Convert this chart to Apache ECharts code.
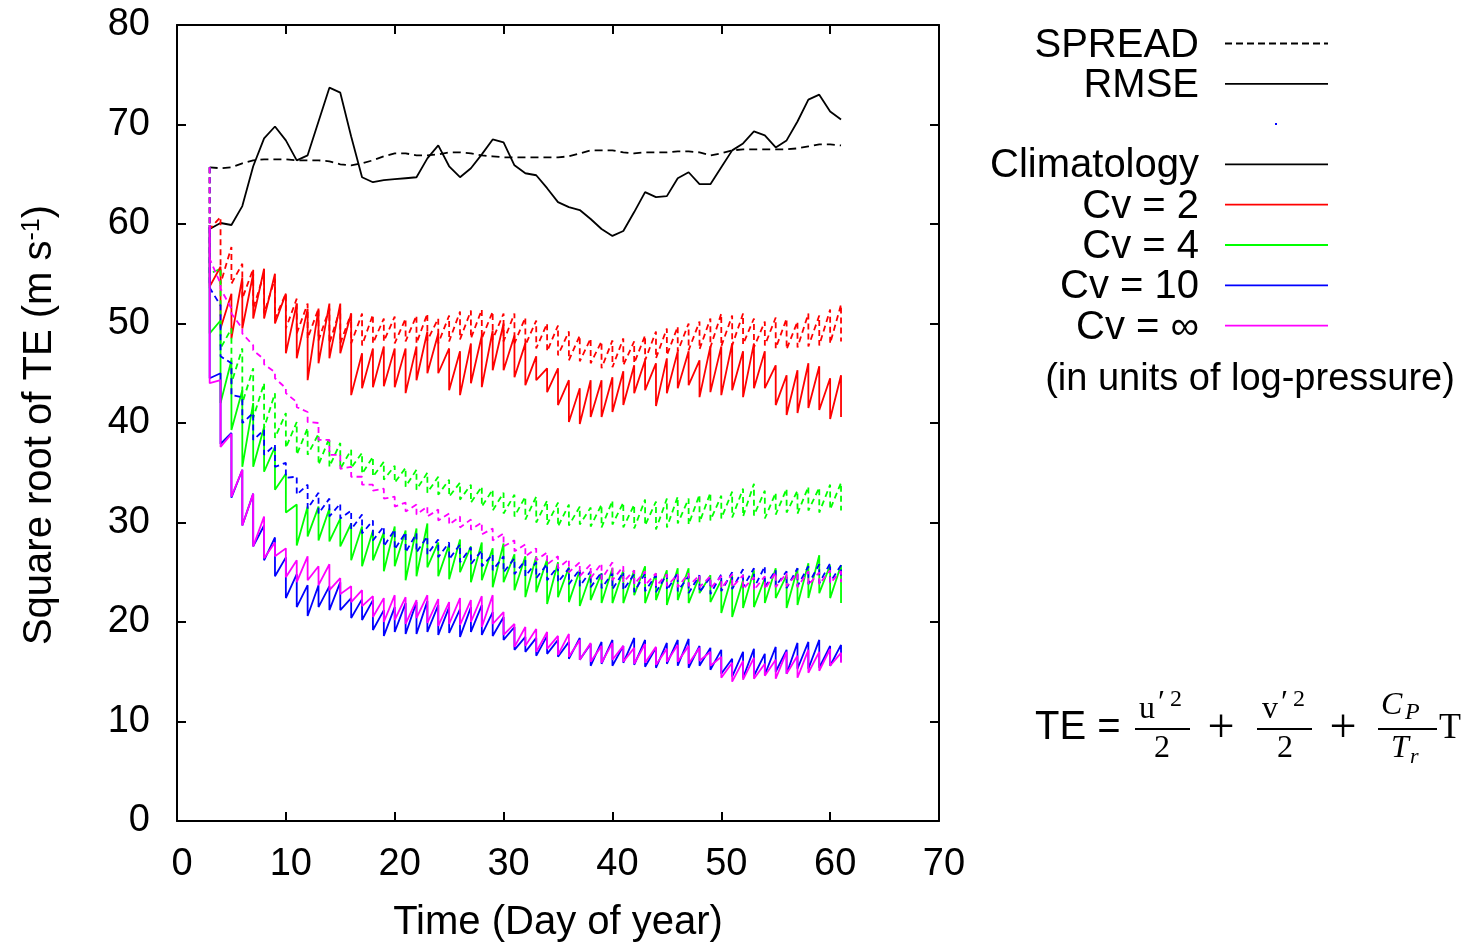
<!DOCTYPE html>
<html>
<head>
<meta charset="utf-8">
<title>Square root of TE</title>
<script src="https://cdn.jsdelivr.net/npm/echarts@6/dist/echarts.min.js"></script>
<style>
  html, body { margin: 0; padding: 0; background: #fff; }
  #chart { width: 1461px; height: 944px; }
</style>
</head>
<body>
<div id="chart"></div>
<script>
// day of year of each analysis cycle
const days = [
  3, 4, 5, 6, 7, 8, 9, 10, 11, 12,
  13, 14, 15, 16, 17, 18, 19, 20, 21, 22,
  23, 24, 25, 26, 27, 28, 29, 30, 31, 32,
  33, 34, 35, 36, 37, 38, 39, 40, 41, 42,
  43, 44, 45, 46, 47, 48, 49, 50, 51, 52,
  53, 54, 55, 56, 57, 58, 59, 60, 61
]

// climatology (black)
const climRmse = [
  59.5, 60.1, 59.9, 61.8, 65.8, 68.6, 69.8, 68.4, 66.4, 66.9,
  70.3, 73.7, 73.2, 68.8, 64.7, 64.2, 64.4, 64.5, 64.6, 64.7,
  66.6, 67.9, 65.8, 64.7, 65.6, 67.0, 68.5, 68.2, 65.9, 65.1,
  64.9, 63.6, 62.2, 61.7, 61.4, 60.5, 59.5, 58.8, 59.3, 61.2,
  63.2, 62.7, 62.8, 64.6, 65.2, 64.0, 64.0, 65.7, 67.4, 68.1,
  69.3, 68.9, 67.7, 68.4, 70.3, 72.5, 73.0, 71.3, 70.5
]
const climSpread = [
  65.7, 65.6, 65.7, 66.1, 66.4, 66.5, 66.5, 66.5, 66.4, 66.4,
  66.4, 66.3, 66.0, 65.9, 66.1, 66.4, 66.8, 67.1, 67.1, 66.9,
  66.9, 67.0, 67.2, 67.2, 67.1, 66.9, 66.8, 66.7, 66.7, 66.7,
  66.7, 66.7, 66.7, 66.8, 67.1, 67.4, 67.4, 67.4, 67.2, 67.1,
  67.2, 67.2, 67.2, 67.3, 67.3, 67.2, 66.9, 67.1, 67.4, 67.5,
  67.5, 67.5, 67.5, 67.5, 67.6, 67.8, 68.0, 68.0, 67.9
]

// Cv = 2 (red): forecast value before each analysis, analysis value after it
const cv2Fcst = [
  59.9, 55.7, 53.0, 54.6, 55.0, 55.5, 55.0, 53.0, 52.0, 51.5,
  51.5, 52.0, 52.0, 51.0, 47.0, 47.5, 47.7, 47.5, 47.5, 47.7,
  49.2, 49.0, 47.5, 47.2, 48.0, 48.8, 49.3, 50.0, 48.8, 48.0,
  46.7, 45.5, 45.5, 44.3, 43.5, 44.3, 44.3, 44.6, 45.2, 45.8,
  46.3, 46.0, 46.5, 47.2, 47.2, 46.3, 47.7, 47.7, 48.0, 47.2,
  48.0, 47.2, 45.8, 44.8, 45.3, 46.0, 45.7, 44.5, 44.8
]
const cv2Anal = [
  53.7, 49.5, 48.5, 49.5, 50.5, 50.5, 50.0, 47.0, 46.5, 44.3,
  46.0, 46.5, 47.0, 42.8, 43.5, 43.6, 43.7, 43.6, 43.0, 44.3,
  45.0, 45.0, 43.3, 42.8, 44.0, 43.6, 45.3, 45.3, 44.6, 43.8,
  44.3, 43.1, 41.8, 40.1, 39.9, 40.6, 40.6, 41.1, 41.8, 43.0,
  43.3, 41.7, 43.0, 43.5, 43.8, 42.6, 43.1, 42.8, 43.3, 42.6,
  43.5, 43.5, 41.8, 40.8, 41.0, 41.5, 41.3, 40.4, 40.6
]
const cv2SpreadFcst = [
  65.7, 60.7, 57.7, 56.0, 55.5, 55.0, 54.5, 53.0, 52.5, 52.0,
  51.5, 51.5, 51.5, 51.0, 51.0, 50.9, 50.5, 50.7, 50.5, 50.8,
  51.0, 50.5, 50.8, 51.2, 51.3, 51.4, 51.2, 51.0, 51.0, 50.6,
  50.3, 50.0, 49.8, 49.2, 48.8, 48.5, 48.2, 48.3, 48.5, 48.2,
  48.8, 49.2, 49.5, 49.7, 50.0, 50.2, 50.5, 51.0, 50.8, 51.0,
  50.5, 50.2, 50.6, 50.5, 50.2, 51.0, 50.8, 51.4, 51.9
]
const cv2SpreadAnal = [
  59.5, 54.0, 54.0, 52.5, 51.5, 51.0, 50.5, 49.5, 49.0, 48.5,
  48.3, 48.0, 48.0, 48.0, 47.8, 48.0, 48.2, 48.0, 48.2, 48.0,
  48.3, 48.0, 48.2, 48.4, 48.5, 48.5, 48.4, 48.2, 48.0, 47.8,
  47.5, 47.2, 46.8, 46.3, 46.2, 46.0, 45.5, 45.6, 45.8, 46.0,
  46.3, 46.5, 46.8, 47.2, 47.3, 47.4, 47.6, 47.7, 47.8, 47.9,
  47.6, 47.8, 47.5, 47.4, 47.6, 47.7, 47.8, 48.0, 48.2
]

// Cv = 4 (green)
const cv4Fcst = [
  59.9, 50.3, 46.3, 43.3, 42.0, 39.6, 37.6, 34.9, 31.8, 31.6,
  31.6, 31.4, 30.4, 29.9, 29.6, 29.2, 29.0, 29.6, 29.2, 29.4,
  29.9, 28.0, 27.8, 28.3, 27.6, 28.0, 27.4, 27.9, 26.8, 26.6,
  26.6, 26.3, 26.0, 25.5, 25.2, 24.8, 24.9, 25.4, 25.2, 25.2,
  25.6, 24.9, 25.2, 25.4, 25.4, 24.6, 24.7, 24.2, 24.7, 24.2,
  25.2, 24.4, 25.4, 24.7, 25.4, 25.9, 26.7, 25.7, 25.7
]
const cv4Anal = [
  49.0, 42.0, 39.3, 35.6, 35.6, 35.1, 33.3, 31.0, 27.7, 28.6,
  28.2, 28.1, 27.6, 26.2, 25.6, 26.2, 25.1, 25.6, 24.2, 24.6,
  25.5, 24.6, 24.3, 25.0, 24.0, 24.2, 23.5, 24.0, 23.2, 22.5,
  23.0, 21.8, 22.5, 22.0, 21.6, 22.2, 21.9, 21.9, 21.9, 22.7,
  21.9, 22.2, 21.7, 22.2, 21.9, 22.9, 22.0, 20.9, 20.5, 21.4,
  21.5, 21.9, 22.4, 21.4, 21.7, 22.4, 22.9, 22.4, 21.9
]
const cv4SpreadFcst = [
  65.7, 55.5, 49.5, 47.5, 45.5, 44.0, 43.0, 41.0, 40.1, 39.5,
  38.9, 38.5, 38.0, 37.3, 37.0, 36.6, 36.1, 35.7, 35.5, 35.3,
  35.0, 34.6, 34.3, 34.0, 33.8, 33.6, 33.3, 33.0, 32.8, 32.6,
  32.6, 32.2, 32.0, 31.8, 31.6, 31.5, 31.8, 32.2, 32.0, 31.8,
  32.3, 32.1, 32.4, 32.6, 32.4, 32.8, 33.0, 32.7, 33.1, 33.4,
  33.9, 33.2, 33.0, 33.4, 33.2, 33.6, 33.5, 33.8, 34.0
]
const cv4SpreadAnal = [
  55.0, 47.5, 44.0, 42.0, 40.5, 39.5, 38.5, 37.5, 36.8, 36.8,
  35.8, 35.6, 35.4, 35.5, 34.9, 34.6, 34.3, 34.0, 33.6, 33.3,
  33.0, 32.8, 32.6, 32.3, 32.0, 31.6, 31.2, 30.9, 30.6, 30.3,
  30.0, 29.8, 29.6, 29.7, 29.8, 29.6, 29.5, 29.8, 29.5, 29.4,
  29.7, 29.3, 29.5, 29.9, 29.8, 30.0, 30.2, 30.4, 30.5, 30.6,
  30.7, 30.4, 30.8, 31.0, 30.9, 31.2, 31.0, 31.3, 31.2
]

// Cv = 10 (blue)
const cv10Fcst = [
  59.9, 45.0, 39.0, 35.3, 32.9, 29.7, 28.5, 26.5, 24.8, 23.7,
  23.7, 23.6, 24.0, 22.4, 22.3, 22.2, 21.2, 21.5, 21.9, 22.0,
  22.1, 21.7, 21.5, 21.3, 21.5, 21.7, 21.0, 20.5, 19.5, 18.5,
  18.4, 18.6, 18.2, 18.0, 18.4, 17.8, 18.0, 18.2, 17.6, 18.4,
  18.2, 17.4, 17.9, 18.2, 18.3, 17.6, 17.4, 17.2, 16.3, 17.0,
  17.3, 16.8, 17.5, 17.2, 17.9, 18.0, 18.2, 17.6, 17.7
]
const cv10Anal = [
  44.5, 37.9, 32.5, 29.7, 27.6, 26.2, 24.6, 22.4, 21.5, 20.6,
  21.5, 21.2, 21.2, 20.4, 20.2, 19.2, 18.6, 19.0, 18.8, 18.8,
  19.0, 18.7, 18.9, 18.5, 19.0, 18.7, 18.6, 18.2, 17.2, 17.0,
  16.6, 16.8, 16.5, 16.3, 16.2, 15.6, 15.8, 15.6, 15.9, 15.7,
  15.5, 15.4, 15.8, 15.6, 15.4, 15.6, 15.2, 14.8, 14.5, 14.4,
  14.6, 14.7, 15.0, 14.8, 15.3, 15.3, 15.4, 15.6, 16.0
]
const cv10SpreadFcst = [
  65.7, 51.8, 46.0, 42.6, 41.0, 39.3, 37.8, 36.0, 34.6, 33.8,
  33.0, 32.4, 31.9, 31.2, 30.8, 30.2, 29.6, 29.3, 29.0, 28.9,
  28.6, 28.3, 28.0, 27.8, 27.5, 27.2, 26.8, 26.6, 26.4, 26.2,
  26.0, 25.8, 25.6, 25.4, 25.3, 25.1, 25.0, 24.9, 25.0, 24.8,
  24.9, 24.7, 24.8, 24.9, 24.6, 24.7, 24.5, 24.8, 25.0, 25.3,
  25.4, 25.6, 25.2, 25.1, 25.4, 25.6, 25.8, 25.9, 25.7
]
const cv10SpreadAnal = [
  53.6, 46.7, 42.8, 40.0, 38.3, 36.8, 35.6, 34.5, 32.8, 31.4,
  30.9, 30.6, 30.4, 29.3, 28.9, 28.2, 27.6, 27.3, 27.0, 27.0,
  26.8, 26.5, 26.3, 26.0, 25.8, 25.6, 25.2, 25.0, 24.8, 24.6,
  24.4, 24.2, 24.0, 23.8, 23.6, 23.5, 23.4, 23.3, 23.2, 23.0,
  23.1, 23.0, 23.2, 23.1, 22.9, 23.0, 22.8, 23.1, 23.3, 23.5,
  23.4, 23.5, 23.6, 23.4, 23.6, 23.8, 23.9, 24.0, 24.1
]

// Cv = infinity (magenta)
const cvInfFcst = [
  59.9, 44.3, 38.9, 35.3, 32.9, 30.6, 28.0, 27.4, 26.2, 26.6,
  25.6, 25.8, 24.4, 23.6, 23.2, 22.6, 22.4, 22.7, 22.5, 22.2,
  22.7, 22.3, 22.0, 22.4, 22.2, 22.6, 22.7, 21.0, 19.8, 19.5,
  19.3, 19.0, 18.6, 18.8, 18.2, 17.9, 17.6, 17.9, 17.6, 17.4,
  17.8, 17.5, 17.3, 17.7, 17.6, 17.4, 17.0, 16.5, 15.9, 16.1,
  16.4, 15.8, 16.2, 17.0, 16.6, 17.2, 17.0, 17.3, 16.9
]
const cvInfAnal = [
  44.0, 37.6, 32.6, 29.7, 27.6, 26.4, 26.6, 24.5, 24.0, 24.2,
  23.7, 23.2, 22.8, 22.0, 21.6, 20.5, 20.0, 20.2, 19.8, 20.4,
  19.9, 19.6, 19.8, 19.7, 20.0, 19.5, 19.8, 18.7, 17.5, 17.6,
  17.0, 17.3, 16.7, 16.5, 16.2, 16.0, 15.9, 16.2, 16.0, 15.8,
  15.9, 15.7, 16.0, 16.0, 15.8, 16.1, 15.6, 14.4, 14.0, 14.2,
  14.3, 14.6, 14.3, 14.8, 14.4, 14.9, 15.1, 15.6, 15.9
]
const cvInfSpreadFcst = [
  65.7, 54.0, 51.5, 49.5, 47.8, 46.4, 45.1, 43.5, 42.1, 41.1,
  40.0, 38.3, 36.8, 35.6, 34.6, 33.8, 33.4, 32.6, 32.0, 31.8,
  31.6, 31.3, 30.9, 30.6, 30.3, 30.0, 29.4, 28.9, 28.2, 27.8,
  27.4, 27.0, 26.6, 26.3, 26.0, 25.8, 25.9, 26.0, 25.6, 25.2,
  25.1, 24.9, 24.8, 24.8, 24.9, 24.7, 24.6, 24.6, 24.8, 24.7,
  24.5, 24.6, 25.0, 24.9, 24.9, 25.1, 25.0, 25.2, 25.1
]
const cvInfSpreadAnal = [
  56.5, 53.5, 51.0, 49.0, 47.3, 45.9, 44.5, 43.0, 41.6, 40.1,
  38.3, 36.8, 35.4, 34.6, 33.8, 33.2, 32.4, 31.6, 31.1, 30.8,
  30.6, 30.2, 29.8, 29.5, 29.3, 28.8, 28.2, 27.6, 27.1, 26.6,
  26.2, 25.8, 25.4, 25.0, 24.6, 24.4, 24.3, 24.2, 24.0, 23.8,
  23.7, 23.6, 23.6, 23.5, 23.6, 23.5, 23.4, 23.4, 23.5, 23.3,
  23.2, 23.3, 23.5, 23.6, 23.5, 23.7, 23.8, 23.9, 24.0
]

const xTicks = [0, 10, 20, 30, 40, 50, 60, 70]
const yTicks = [0, 10, 20, 30, 40, 50, 60, 70, 80]

const legendLabels = ['SPREAD', 'RMSE', '', 'Climatology', 'Cv = 2', 'Cv = 4', 'Cv = 10', 'Cv = \u221e']
const legendColors = ['#000', '#000', '#0000ff', '#000', '#ff0000', '#00ff00', '#0000ff', '#ff00ff']

const SANS = '"Liberation Sans", Arial, Helvetica, sans-serif'
const SERIF = '"Liberation Serif", "DejaVu Serif", serif'
const DASH = [6, 4]
const LW = 1.8

const runs = [
  { color: '#ff0000', fcst: cv2Fcst, anal: cv2Anal, sprFcst: cv2SpreadFcst, sprAnal: cv2SpreadAnal },
  { color: '#00ff00', fcst: cv4Fcst, anal: cv4Anal, sprFcst: cv4SpreadFcst, sprAnal: cv4SpreadAnal },
  { color: '#0000ff', fcst: cv10Fcst, anal: cv10Anal, sprFcst: cv10SpreadFcst, sprAnal: cv10SpreadAnal },
  { color: '#ff00ff', fcst: cvInfFcst, anal: cvInfAnal, sprFcst: cvInfSpreadFcst, sprAnal: cvInfSpreadAnal }
]

// each cycle: forecast value then analysis value at the same day -> sawtooth
const sawtooth = (fcst, anal) => days.flatMap((d, i) => [[d, fcst[i]], [d, anal[i]]])
const curve = values => days.map((d, i) => [d, values[i]])

const lineSeries = (data, color, type) => ({
  type: 'line',
  data,
  symbol: 'none',
  silent: true,
  lineStyle: { color, width: LW, type: type || 'solid' }
})

const series = [
  lineSeries(curve(climRmse), '#000'),
  lineSeries(curve(climSpread), '#000', [8, 5])
]
runs.forEach(r => {
  series.push(lineSeries(sawtooth(r.fcst, r.anal), r.color))
  series.push(lineSeries(sawtooth(r.sprFcst, r.sprAnal), r.color, DASH))
})

const frameAxis = (extra) => Object.assign({
  type: 'value',
  axisLine: { show: true, onZero: false, lineStyle: { color: '#000', width: 2 } },
  axisTick: { show: true, inside: true, length: 9, lineStyle: { color: '#000', width: 2 } },
  splitLine: { show: false },
  axisLabel: { show: false }
}, extra)

const xLabelStyle = { show: true, fontSize: 38, color: '#000', fontFamily: SANS, margin: 25, padding: [0, 0, 0, 10] }
const yLabelStyle = { show: true, fontSize: 38, color: '#000', fontFamily: SANS, margin: 27 }

// legend: text right-aligned, line sample to the right
const legendGraphics = []
legendLabels.forEach((label, i) => {
  const y = 43.5 + i * 40.3
  if (label === '') {
    legendGraphics.push({ type: 'rect', shape: { x: 1275, y: y - 1, width: 2, height: 2 }, style: { fill: legendColors[i] } })
    return
  }
  legendGraphics.push({
    type: 'text',
    style: { text: label, x: 1199, y: y + 2, textAlign: 'right', textVerticalAlign: 'middle', font: '40px ' + SANS, fill: '#000' }
  })
  legendGraphics.push({
    type: 'line',
    shape: { x1: 1225, y1: y, x2: 1328, y2: y },
    style: { stroke: legendColors[i], lineWidth: LW, lineDash: i === 0 ? [7, 4] : null }
  })
})
legendGraphics.push({
  type: 'text',
  style: { text: '(in units of log-pressure)', x: 1250, y: 380, textAlign: 'center', textVerticalAlign: 'middle', font: '38px ' + SANS, fill: '#000' }
})

// TE formula
const txt = (text, x, y, font, align) => ({
  type: 'text',
  style: { text, x, y, textAlign: align || 'left', textVerticalAlign: 'middle', font, fill: '#000' }
})
const bar = (x1, x2) => ({
  type: 'line', shape: { x1, y1: 729, x2, y2: 729 }, style: { stroke: '#000', lineWidth: 2 }
})
const formula = [
  txt('TE =', 1035, 728, '40px ' + SANS),
  bar(1135, 1190),
  txt('u', 1139, 710, '32px ' + SERIF),
  txt('\u2032', 1158, 704, '32px ' + SERIF),
  txt('2', 1170, 700, '24px ' + SERIF),
  txt('2', 1162, 749, '32px ' + SERIF, 'center'),
  txt('+', 1221, 729, '48px ' + SERIF, 'center'),
  bar(1257, 1312),
  txt('v', 1262, 710, '32px ' + SERIF),
  txt('\u2032', 1281, 704, '32px ' + SERIF),
  txt('2', 1293, 700, '24px ' + SERIF),
  txt('2', 1285, 749, '32px ' + SERIF, 'center'),
  txt('+', 1343, 729, '48px ' + SERIF, 'center'),
  bar(1378, 1437),
  txt('C', 1381, 706, 'italic 32px ' + SERIF),
  txt('P', 1405, 713, 'italic 24px ' + SERIF),
  txt('T', 1391, 749, 'italic 32px ' + SERIF),
  txt('r', 1410, 757, 'italic 22px ' + SERIF),
  txt('T', 1439, 729, '36px ' + SERIF)
]

const yTitle = {
  type: 'text',
  x: 40,
  y: 425,
  rotation: Math.PI / 2,
  style: {
    text: 'Square root of TE (m s{sup|-1})',
    textAlign: 'center',
    textVerticalAlign: 'middle',
    font: '40px ' + SANS,
    fill: '#000',
    rich: {
      sup: { fontSize: 25, fontFamily: SANS, fill: '#000', verticalAlign: 'top', padding: [0, 0, 14, 0] }
    }
  }
}

const chart = echarts.init(document.getElementById('chart'))
chart.setOption({
  animation: false,
  backgroundColor: '#fff',
  grid: { left: 177, top: 25, width: 762, height: 796, show: false, containLabel: false, outerBoundsMode: 'none' },
  xAxis: [
    frameAxis({
      position: 'bottom',
      min: xTicks[0],
      max: xTicks[xTicks.length - 1],
      interval: xTicks[1] - xTicks[0],
      axisLabel: xLabelStyle,
      name: 'Time (Day of year)',
      nameLocation: 'middle',
      nameGap: 82,
      nameTextStyle: { fontSize: 40, color: '#000', fontFamily: SANS }
    }),
    frameAxis({ position: 'top', min: xTicks[0], max: xTicks[xTicks.length - 1], interval: xTicks[1] - xTicks[0] })
  ],
  yAxis: [
    frameAxis({
      position: 'left',
      min: yTicks[0],
      max: yTicks[yTicks.length - 1],
      interval: yTicks[1] - yTicks[0],
      axisLabel: yLabelStyle
    }),
    frameAxis({ position: 'right', min: yTicks[0], max: yTicks[yTicks.length - 1], interval: yTicks[1] - yTicks[0] })
  ],
  graphic: [yTitle].concat(legendGraphics, formula),
  series
})
</script>
</body>
</html>
